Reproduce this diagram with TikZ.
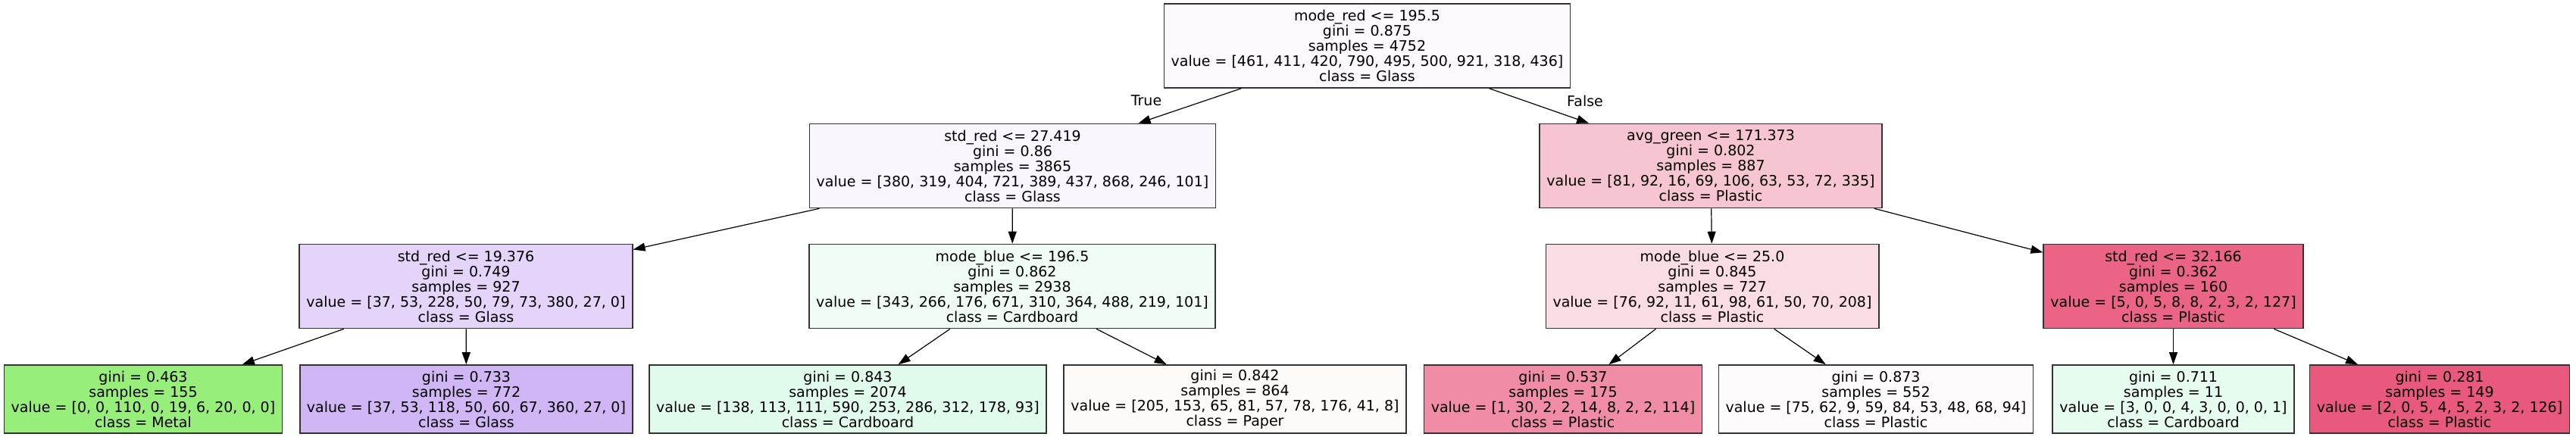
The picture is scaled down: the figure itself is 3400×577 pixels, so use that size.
\documentclass[tikz,border=0pt]{standalone}
\usepackage{fontspec}
\setmainfont{DejaVu Sans}
\usepackage{xcolor}
\usepackage{tikz}
\usetikzlibrary{positioning,arrows.meta}
\definecolor{cRoot}{HTML}{FBF8FE}
\definecolor{cStdA}{HTML}{F9F6FE}
\definecolor{cAvgG}{HTML}{F7C5D2}
\definecolor{cStdB}{HTML}{E4D4F9}
\definecolor{cModeA}{HTML}{F0FDF6}
\definecolor{cModeB}{HTML}{FADCE4}
\definecolor{cStdC}{HTML}{EB6486}
\definecolor{cLeafA}{HTML}{98EE7B}
\definecolor{cLeafB}{HTML}{D0B6F5}
\definecolor{cLeafC}{HTML}{E0FBEB}
\definecolor{cLeafD}{HTML}{FEFAF7}
\definecolor{cLeafE}{HTML}{F08CA5}
\definecolor{cLeafF}{HTML}{FEFBFC}
\definecolor{cLeafG}{HTML}{E6FCEF}
\definecolor{cLeafH}{HTML}{E9597D}

\begin{document}
\begin{tikzpicture}[x=0.5pt,y=-0.5pt,
    >={Triangle[length=8pt,width=5.5pt]},
    every node/.style={font=\fontsize{9.5}{10}\selectfont},
    treenode/.style={draw=black!80,line width=0.8pt,rectangle,align=center,
      inner xsep=4.6pt,inner ysep=0pt,minimum height=55.5pt},
    leafnode/.style={treenode,minimum height=45pt},
    edge/.style={->,line width=0.6pt}]
    \useasboundingbox (0,0) rectangle (3400,577);
    % splits
    \node[treenode,fill=cRoot] (modeRed) at (1804.5,60.5)
      {mode\_red <= 195.5\\gini = 0.875\\samples = 4752\\value = [461, 411, 420, 790, 495, 500, 921, 318, 436]\\class = Glass};
    \node[treenode,fill=cStdA] (stdRedA) at (1336.5,219)
      {std\_red <= 27.419\\gini = 0.86\\samples = 3865\\value = [380, 319, 404, 721, 389, 437, 868, 246, 101]\\class = Glass};
    \node[treenode,fill=cAvgG] (avgGreen) at (2258,219)
      {avg\_green <= 171.373\\gini = 0.802\\samples = 887\\value = [81, 92, 16, 69, 106, 63, 53, 72, 335]\\class = Plastic};
    \node[treenode,fill=cStdB] (stdRedB) at (615,378)
      {std\_red <= 19.376\\gini = 0.749\\samples = 927\\value = [37, 53, 228, 50, 79, 73, 380, 27, 0]\\class = Glass};
    \node[treenode,fill=cModeA] (modeBlueA) at (1336,378)
      {mode\_blue <= 196.5\\gini = 0.862\\samples = 2938\\value = [343, 266, 176, 671, 310, 364, 488, 219, 101]\\class = Cardboard};
    \node[treenode,fill=cModeB] (modeBlueB) at (2260,378)
      {mode\_blue <= 25.0\\gini = 0.845\\samples = 727\\value = [76, 92, 11, 61, 98, 61, 50, 70, 208]\\class = Plastic};
    \node[treenode,fill=cStdC] (stdRedC) at (2868.5,378)
      {std\_red <= 32.166\\gini = 0.362\\samples = 160\\value = [5, 0, 5, 8, 8, 2, 3, 2, 127]\\class = Plastic};
    % leaves
    \node[leafnode,fill=cLeafA] (leaf1) at (189,527)
      {gini = 0.463\\samples = 155\\value = [0, 0, 110, 0, 19, 6, 20, 0, 0]\\class = Metal};
    \node[leafnode,fill=cLeafB] (leaf2) at (615.5,527)
      {gini = 0.733\\samples = 772\\value = [37, 53, 118, 50, 60, 67, 360, 27, 0]\\class = Glass};
    \node[leafnode,fill=cLeafC] (leaf3) at (1119,527)
      {gini = 0.843\\samples = 2074\\value = [138, 113, 111, 590, 253, 286, 312, 178, 93]\\class = Cardboard};
    \node[leafnode,fill=cLeafD] (leaf4) at (1630,527)
      {gini = 0.842\\samples = 864\\value = [205, 153, 65, 81, 57, 78, 176, 41, 8]\\class = Paper};
    \node[leafnode,fill=cLeafE] (leaf5) at (2063,527)
      {gini = 0.537\\samples = 175\\value = [1, 30, 2, 2, 14, 8, 2, 2, 114]\\class = Plastic};
    \node[leafnode,fill=cLeafF] (leaf6) at (2476,527)
      {gini = 0.873\\samples = 552\\value = [75, 62, 9, 59, 84, 53, 48, 68, 94]\\class = Plastic};
    \node[leafnode,fill=cLeafG] (leaf7) at (2868.5,527)
      {gini = 0.711\\samples = 11\\value = [3, 0, 0, 4, 3, 0, 0, 0, 1]\\class = Cardboard};
    \node[leafnode,fill=cLeafH] (leaf8) at (3220,527)
      {gini = 0.281\\samples = 149\\value = [2, 0, 5, 4, 5, 2, 3, 2, 126]\\class = Plastic};
    % edges
    \draw[edge] (modeRed) -- (stdRedA);
    \draw[edge] (modeRed) -- (avgGreen);
    \draw[edge] (stdRedA) -- (stdRedB);
    \draw[edge] (stdRedA) -- (modeBlueA);
    \draw[edge] (avgGreen) -- (modeBlueB);
    \draw[edge] (avgGreen) -- (stdRedC);
    \draw[edge] (stdRedB) -- (leaf1);
    \draw[edge] (stdRedB) -- (leaf2);
    \draw[edge] (modeBlueA) -- (leaf3);
    \draw[edge] (modeBlueA) -- (leaf4);
    \draw[edge] (modeBlueB) -- (leaf5);
    \draw[edge] (modeBlueB) -- (leaf6);
    \draw[edge] (stdRedC) -- (leaf7);
    \draw[edge] (stdRedC) -- (leaf8);
    \node (lblTrue) at (1513,133) {True};
    \node (lblFalse) at (2092,133) {False};
  \end{tikzpicture}
\end{document}
